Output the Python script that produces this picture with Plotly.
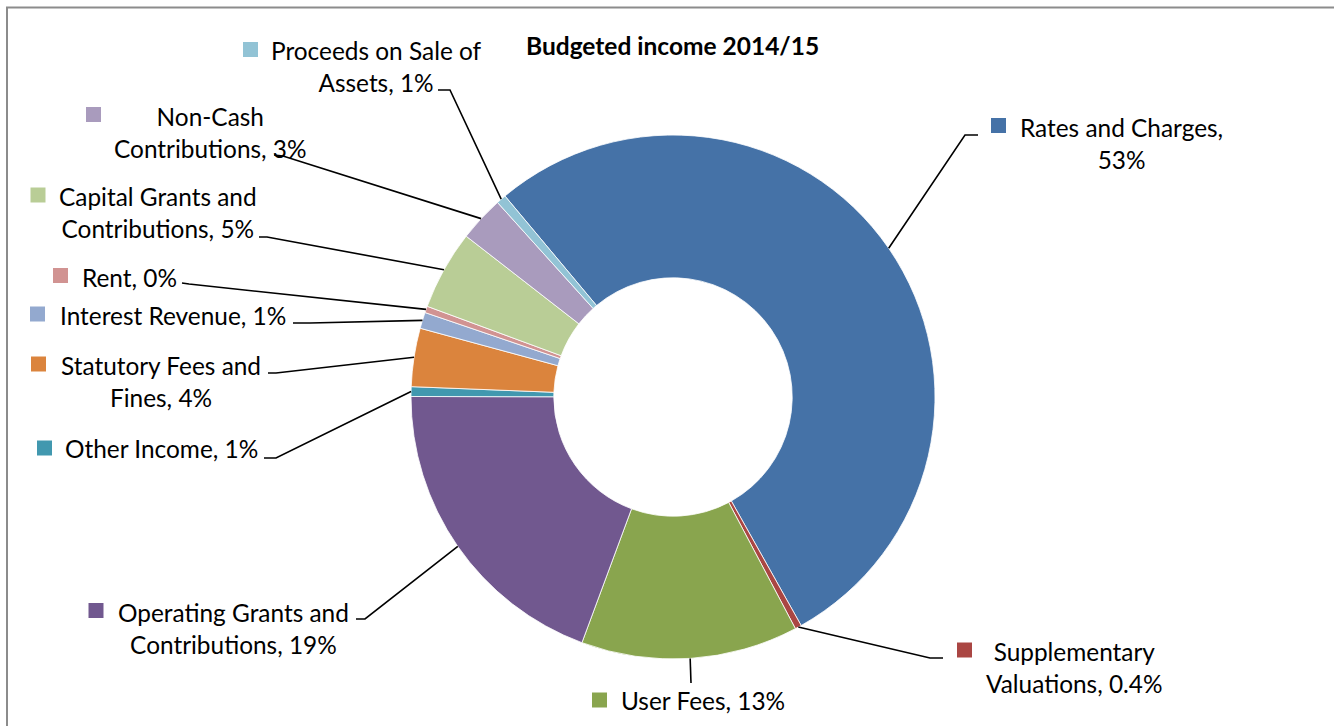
import math
import plotly.graph_objects as go

W, H = 1334, 726

# ---------------- data ----------------
categories = [
    "Rates and Charges",
    "Supplementary Valuations",
    "User Fees",
    "Operating Grants and Contributions",
    "Other Income",
    "Statutory Fees and Fines",
    "Interest Revenue",
    "Rent",
    "Capital Grants and Contributions",
    "Non-Cash Contributions",
    "Proceeds on Sale of Assets",
]
shares = [53.0, 0.4, 13.4, 19.4, 0.6, 3.6, 1.0, 0.4, 4.9, 2.8, 0.6]
pct_labels = ["53%", "0.4%", "13%", "19%", "1%", "4%", "1%", "0%", "5%", "3%", "1%"]
title_text = "Budgeted income 2014/15"

# ---------------- style ----------------
colors = ["#4572A7", "#AA4643", "#89A54E", "#71588F", "#4198AF", "#DB843D",
          "#93A9CF", "#D19392", "#B9CD96", "#A99BBD", "#92C3D5"]
FONT = "Lato"
LABEL_SIZE = 24.4
TITLE_SIZE = 24.5

# pie geometry (pixels)
CX, CY, R = 673, 397, 262
HOLE = 0.455
START_DEG = 320.1  # clockwise from 12 o'clock

# words on first line of each wrapped label (None = single line)
first_line_words = [3, 1, None, 3, None, 3, None, None, 3, 1, 4]
# label layout in pixels: text centre, key centre, leader anchor, leader elbow
text_pos = [(1121.5, 143.5), (1074, 667), (703, 700), (233.5, 628), (161.5, 448),
            (160.5, 381.5), (173, 316), (129, 277), (157.5, 212.5), (210.5, 132.5),
            (377, 66.5)]
key_pos = [(998.5, 125.5), (964.5, 650), (599.5, 700), (96, 610.5), (44.5, 448),
           (38.5, 364), (37.5, 314), (60.5, 275.5), (38, 195), (93.5, 114.5),
           (250.5, 49.5)]
anchor_pos = [(978, 135), (943, 658), (691, 683), (356, 619), (264, 458),
              (268, 373), (293, 323), (182, 283), (259, 237), (274, 155),
              (438, 90)]
elbow_pos = [(965, 135), (930, 658), (691, 683), (365, 619), (276, 458),
             (276, 373), (310, 323), (189, 284), (267, 237), (283, 156),
             (450, 90)]
KEY = 15


def px(x):
    return x / W


def py(y):
    return 1 - y / H


fig = go.Figure()
fig.add_trace(go.Pie(
    labels=categories,
    values=shares,
    sort=False,
    direction="clockwise",
    rotation=START_DEG - 360,
    hole=HOLE,
    marker=dict(colors=colors, line=dict(color="white", width=0.8)),
    textinfo="none",
    hoverinfo="label+percent",
    showlegend=False,
    domain=dict(x=[px(CX - R), px(CX + R)], y=[py(CY + R), py(CY - R)]),
))

total = sum(shares)
cum = 0.0
shapes = []
annotations = []
for i, cat in enumerate(categories):
    mid = START_DEG + 360 * (cum + shares[i] / 2) / total
    cum += shares[i]
    a = math.radians(mid)
    sx, sy = CX + R * math.sin(a), CY - R * math.cos(a)

    words = f"{cat}, {pct_labels[i]}".split(" ")
    n = first_line_words[i]
    txt = " ".join(words) if n is None else " ".join(words[:n]) + "<br>" + " ".join(words[n:])

    annotations.append(dict(
        x=px(text_pos[i][0]), y=py(text_pos[i][1]), xref="paper", yref="paper",
        text=txt, showarrow=False, xanchor="center", yanchor="middle", align="center",
        font=dict(family=FONT, size=LABEL_SIZE, color="#000000"),
    ))
    kx, ky = key_pos[i]
    shapes.append(dict(type="rect", xref="paper", yref="paper",
                       x0=px(kx - KEY / 2), x1=px(kx + KEY / 2),
                       y0=py(ky + KEY / 2), y1=py(ky - KEY / 2),
                       fillcolor=colors[i], line=dict(width=0)))
    ax_, ay_ = anchor_pos[i]
    ex_, ey_ = elbow_pos[i]
    path = f"M {px(ax_)},{py(ay_)} L {px(ex_)},{py(ey_)} L {px(sx)},{py(sy)}"
    shapes.append(dict(type="path", xref="paper", yref="paper", path=path,
                       line=dict(color="#000000", width=1.6)))

annotations.append(dict(
    x=px(672), y=py(45), xref="paper", yref="paper",
    text=f"<b>{title_text}</b>", showarrow=False, xanchor="center", yanchor="middle",
    font=dict(family=FONT, size=TITLE_SIZE, color="#000000"),
))

# chart-area border (cropped at right and bottom)
shapes.append(dict(type="rect", xref="paper", yref="paper",
                   x0=px(7), x1=px(W + 20), y0=py(H + 20), y1=py(7.5),
                   line=dict(color="#8C8C8C", width=2), fillcolor="rgba(0,0,0,0)"))

fig.update_layout(
    width=W, height=H,
    margin=dict(l=0, r=0, t=0, b=0),
    paper_bgcolor="white", plot_bgcolor="white",
    shapes=shapes, annotations=annotations,
    font=dict(family=FONT),
)

fig.write_html(
    "out.html",
    config={"displayModeBar": False},
    post_script="document.body.style.margin='0';document.body.style.overflow='hidden';",
)
